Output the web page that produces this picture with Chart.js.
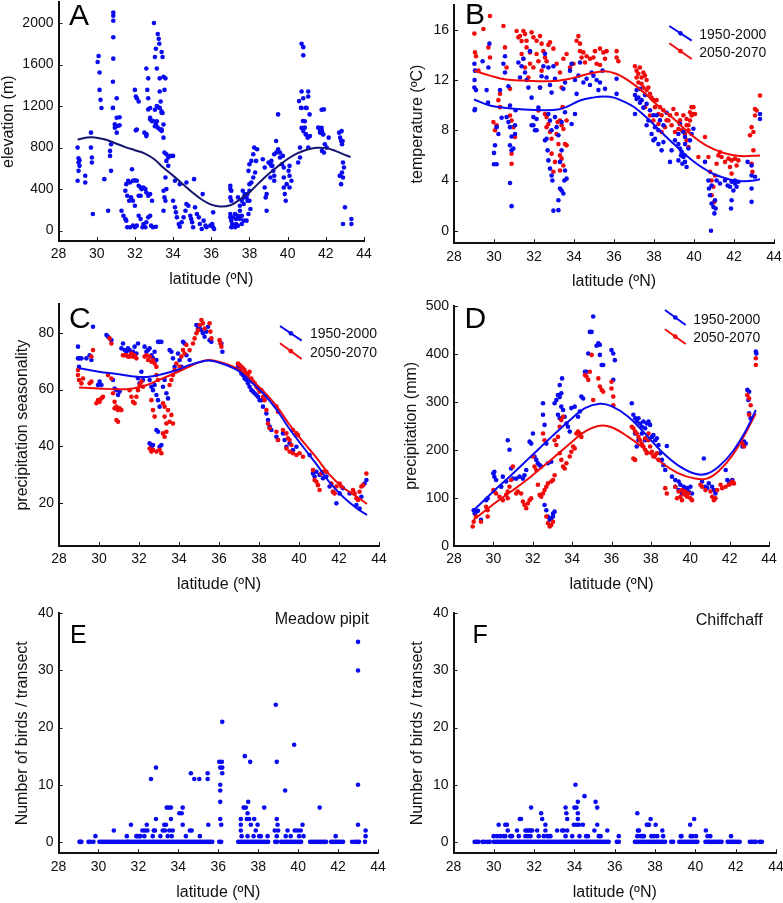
<!DOCTYPE html>
<html><head><meta charset="utf-8">
<script src="https://cdn.jsdelivr.net/npm/chart.js@4.4.1/dist/chart.umd.min.js"></script>
<style>
html,body{margin:0;padding:0;background:#fff;}
#wrap{position:relative;width:783px;height:903px;overflow:hidden;background:#fff;}
#wrap canvas{position:absolute;left:0;top:0;}
</style></head><body>
<div id="wrap">
<canvas id="cA" width="783" height="903"></canvas>
<canvas id="cB" width="783" height="903"></canvas>
<canvas id="cC" width="783" height="903"></canvas>
<canvas id="cD" width="783" height="903"></canvas>
<canvas id="cE" width="783" height="903"></canvas>
<canvas id="cF" width="783" height="903"></canvas>
</div>
<script>
// ---------- tick labels ----------
const latTicks = [28,30,32,34,36,38,40,42,44];
const elevTicks = [0,400,800,1200,1600,2000];
const tempTicks = [0,4,8,12,16];
const seasTicks = [20,40,60,80];
const precTicks = [0,100,200,300,400,500];
const countTicks = [0,10,20,30,40];
const seriesNames = ['1950-2000','2050-2070'];

// ---------- A: elevation ----------
const elevPoints = [[29.0,800],[29.05,698],[29.1,678],[29.05,656],[29.1,624],[29.05,576],[29.0,480],
[29.4,528],[29.4,464],[29.7,944],[29.7,800],[29.75,704],[29.75,656],[29.8,160],
[30.05,1625],[30.1,1683],[30.15,1524],[30.15,1356],[30.2,1260],[30.25,1181],
[30.4,496],[30.6,192],[30.7,768],[30.7,720],[30.75,576],[30.75,832],[30.85,1184],
[30.87,2102],[30.87,2070],[30.87,2022],[30.87,1863],[30.87,1657],[30.85,1435],[30.85,1181],[30.95,1024],[30.95,992],[31.05,1088],[31.05,944],[31.1,1008],[31.05,1276],[31.2,1092],[31.2,1016],
[31.3,192],[31.4,144],[31.5,112],[31.55,96],[31.6,32],[31.75,32],[31.9,48],[32.0,32],[32.1,48],[32.2,144],[32.3,112],[32.4,32],[32.45,64],[32.55,32],[32.6,80],[32.7,128],[32.8,144],[32.85,48],[32.95,32],[33.1,38],
[31.5,384],[31.55,448],[31.65,480],[31.75,464],[31.85,592],[31.9,480],[32.0,486],[32.1,480],[32.2,432],[32.3,416],[32.35,400],[32.45,416],[32.55,400],[32.6,368],[32.7,336],[32.8,352],[32.9,288],[31.6,336],[31.7,288],[31.8,320],[31.9,288],[32.0,240],[32.2,336],[32.3,336],
[32.0,1356],[32.05,1292],[32.1,1276],[32.2,1244],[32.1,975],[32.05,966],[32.6,927],[32.6,911],
[32.6,1562],[32.7,1467],[32.65,1356],[32.7,1276],[32.8,1181],[32.8,1086],[32.9,1054],[33.0,2000],[33.1,1752],[33.05,1673],[33.15,1562],[33.2,1895],[33.25,1848],[33.28,1800],[33.3,1467],[33.3,1340],[33.35,1244],[33.4,1721],[33.45,1673],[33.5,1483],[33.55,1356],[33.6,1467],[33.28,1181],[33.4,1149],[33.45,1133],[33.5,1022],[33.4,975],[33.15,1054],[33.05,1165],[33.05,1006],
[32.7,1168],[32.8,1072],[32.95,1056],[33.1,1024],[33.2,992],[33.3,976],[33.4,960],[33.5,896],[33.15,1200],[33.3,1184],[33.4,1136],[32.6,928],[32.5,944],[33.55,752],[33.65,736],[33.75,704],[33.85,720],[34.0,720],[33.65,672],[33.75,624],[33.6,512],
[33.5,384],[33.55,320],[33.6,288],[33.65,400],[33.5,192],[34.0,288],[34.1,224],[34.15,176],[34.2,128],[34.3,64],[34.35,38],[34.45,80],[34.55,128],[34.65,192],[34.7,256],[34.8,240],[34.9,144],[34.95,112],[35.0,80],[35.05,32],[35.15,224],[35.25,160],[35.35,128],[35.4,64],[35.5,16],[35.6,96],[35.7,48],[35.75,32],[34.1,480],[34.35,448],[34.7,464],[35.1,496],[35.55,352],[36.1,176],[36.05,64],[36.1,32],[36.15,16],[35.95,48],
[37.0,432],[37.0,400],[37.05,384],[37.0,320],[37.05,288],[37.0,160],[37.0,128],[37.05,96],[37.1,64],[37.15,128],[37.25,160],[37.3,112],[37.3,64],[37.4,144],[37.5,192],[37.6,288],[37.65,384],[37.7,256],[37.7,320],[37.75,352],[37.85,320],[37.9,288],[37.9,352],[38.0,384],[38.0,288],[38.05,208],[37.95,160],[37.85,96],[37.7,96],[37.6,64],[37.4,48],[37.25,32],[37.05,32],[37.4,320],[37.5,240],[37.5,112],[37.6,144],
[37.95,576],[38.0,640],[38.1,672],[38.2,736],[38.25,800],[38.4,784],[38.0,448],[38.1,464],[38.2,512],[38.3,560],[38.35,672],
[38.7,688],[38.8,608],[38.8,416],[38.85,320],[38.9,192],[38.9,352],[39.0,656],[39.1,640],
[39.15,672],[39.2,624],[39.25,576],[39.3,528],[39.3,480],[39.3,736],[39.4,864],[39.5,1120],[39.5,784],[39.6,704],[39.7,640],[39.75,720],[39.8,608],[39.8,512],[39.8,416],[39.85,352],[39.9,288],[39.95,448],[40.05,576],[40.1,528],[40.1,624],[40.1,416],[40.2,480],[39.6,752],[39.4,752],[39.15,624],[39.1,512],
[40.55,656],[40.65,704],[40.65,800],
[40.6,1248],[40.7,1184],[40.8,1056],[40.9,992],[40.95,928],[41.05,896],[40.95,1184],[41.15,1120],
[40.73,1800],[40.82,1768],[40.82,1689],[40.73,1340],[40.82,1276],[41.08,1340],[41.08,1292],[41.0,1181],[40.73,1181],[40.9,1054],[40.73,990],[40.82,959],[40.96,927],[41.17,911],[41.08,800],
[41.6,992],[41.7,944],[41.8,960],[41.85,928],[41.95,832],[42.05,800],[42.15,896],[41.8,768],[41.9,1168],[41.9,752],[41.78,1165],[41.78,990],[41.7,959],[41.87,927],
[42.7,944],[42.75,896],[42.8,864],[42.85,832],[42.9,656],[42.95,608],[42.85,560],[42.9,512],[42.8,448],[42.75,528],[42.73,528],[43.0,224],[42.9,64],[43.34,112],[43.34,64],[42.83,959],[42.88,864]];
const elevCurve = [[29.0,878],[29.5,898],[29.8,900],[30.0,895],[30.5,875],[31.0,840],[31.5,805],[32.0,775],[32.5,745],[33.0,690],[33.5,605],[34.0,530],[34.5,450],[35.0,370],[35.5,300],[36.0,250],[36.5,232],[37.0,245],[37.5,300],[38.0,370],[38.5,460],[39.0,545],[39.5,620],[40.0,690],[40.5,745],[41.0,780],[41.5,798],[42.0,795],[42.5,768],[43.0,730],[43.3,710]];

// ---------- B: temperature ----------
const temp1950 = [[29.02,13.3],[29.03,12.0],[29.02,11.4],[29.1,11.2],[29.05,9.7],[29.05,12.75],[29.43,13.5],[29.72,13.0],[29.63,11.2],[29.77,14.9],[30.55,13.9],[30.47,13.3],[30.3,11.2],[30.38,9.0],[30.55,12.6],[30.72,11.5],[30.8,8.25],[30.88,7.5],[31.22,13.4],[31.3,12.2],[31.38,13.1],[31.47,13.7],[31.55,12.6],[31.63,12.0],[31.72,11.4],[31.8,14.3],[31.88,10.6],[31.97,8.4],[32.05,8.0],[32.13,8.9],[32.22,9.8],[32.3,11.4],[32.38,12.3],[32.47,13.1],[32.55,14.1],[32.63,12.2],[32.72,13.0],[32.8,11.6],[32.88,11.0],[32.97,13.1],[33.05,12.1],[33.47,11.3],[33.55,11.8],[33.8,12.75],[33.88,13.3],[34.05,12.0],[34.13,10.9],[34.22,12.35],[34.3,13.4],[34.47,11.8],[34.63,12.1],[34.8,11.6],[34.88,12.6],[34.97,12.35],[35.13,12.0],[35.22,11.2],[35.3,11.8],[35.43,12.75],[35.55,11.3],[36.13,12.1],[36.13,10.9],[37.05,10.8],[37.13,10.5],[37.22,10.6],[37.3,10.2],[37.38,10.4],[37.47,9.8],[37.55,10.8],[37.63,10.1],[37.8,9.6],[37.97,9.2],[37.13,11.2],[37.3,11.3],[38.13,9.2],[38.3,8.8],[38.47,8.4],[38.63,9.4],[39.3,8.5],[39.47,7.86],[39.55,7.46],
[29.03,9.6],[29.7,10.2],[30.0,6.2],[30.0,5.3],[30.13,5.3],[30.05,6.8],[30.13,8.25],[30.22,7.7],[30.63,9.05],[30.72,8.65],[30.8,9.97],[30.8,6.8],[30.88,6.4],[30.8,3.8],[30.88,1.96],[30.97,6.55],[31.05,8.4],[31.05,7.7],[31.08,9.6],[31.88,8.4],[31.97,9.05],[32.13,8.0],[32.55,7.2],[32.63,7.33],[32.68,6.4],[32.72,5.6],[32.8,4.95],[32.88,4.4],[32.92,4.0],[32.97,1.6],[33.22,1.64],[33.22,2.43],[33.3,3.36],[33.38,3.2],[33.47,2.96],[33.52,4.0],[33.55,4.8],[33.63,4.15],[33.3,5.48],[33.38,6.4],[33.22,7.6],[33.13,8.25],[32.88,8.0],[32.8,8.78],[32.72,9.3],[33.05,9.05],[33.38,8.65],[33.55,9.44],[34.05,9.3],[33.88,8.5],
[37.05,9.3],[37.63,8.4],[37.72,8.78],[37.88,7.7],[37.97,7.2],[38.05,7.33],[38.22,6.9],[38.38,6.4],[38.47,7.06],[38.05,8.25],[38.22,8.0],[38.8,5.48],[38.88,6.4],[39.22,6.9],[39.3,6.55],[39.38,6.3],[39.47,5.87],[39.55,5.48],[39.63,5.08],[39.72,6.55],[39.8,7.2],[39.88,7.7],[39.97,8.12],[39.22,5.6],[39.35,6.0],[39.42,5.34],[39.52,6.0],[39.05,7.2],[39.22,7.7],[39.55,6.9],
[40.55,5.48],[40.72,4.0],[40.75,3.36],[40.8,2.83],[40.88,2.17],[40.97,1.9],[41.02,1.38],[41.08,1.77],[41.05,2.43],[40.85,0.0],[40.88,3.6],[41.13,4.0],[41.3,3.76],[41.55,4.0],[41.68,3.6],[41.8,3.5],[41.85,1.77],[41.88,2.43],[41.97,3.2],[42.05,3.76],[42.13,3.5],[42.22,3.9],[41.88,3.9],[42.05,4.0],[42.68,5.48],[42.88,4.4],[42.88,3.36],[42.88,2.3],[43.3,9.3],[43.3,8.9],[43.05,4.3],[42.88,5.2]];
const temp2050 = [[29.02,15.7],[29.05,14.2],[29.1,13.9],[29.22,12.75],[29.47,16.06],[29.72,14.6],[29.8,13.8],[29.8,17.1],[30.47,16.3],[30.55,14.6],[30.63,13.0],[30.8,11.3],[30.22,10.4],[30.3,9.84],[30.3,10.9],[31.13,15.9],[31.22,15.4],[31.3,15.5],[31.38,15.1],[31.47,15.9],[31.55,15.66],[31.63,15.13],[31.63,14.6],[31.8,14.2],[31.88,15.8],[31.97,15.4],[32.13,15.13],[32.3,15.5],[32.38,14.9],[32.47,14.3],[32.55,13.8],[32.63,13.5],[32.72,14.8],[32.8,15.0],[32.97,14.5],[31.38,14.07],[31.47,13.7],[31.55,13.0],[31.72,12.2],[31.8,13.3],[31.97,13.0],[32.13,14.07],[32.22,13.5],[32.3,11.4],[32.38,12.75],[33.13,13.3],[33.3,12.6],[33.38,11.4],[33.47,13.7],[33.63,14.07],[33.8,13.0],[33.97,13.3],[34.13,15.13],[34.22,15.5],[34.3,14.9],[34.3,14.3],[34.38,13.8],[34.47,14.2],[34.55,13.4],[34.63,13.9],[34.8,13.7],[34.97,13.8],[35.05,14.3],[35.13,13.3],[35.3,14.5],[35.47,14.2],[35.63,14.3],[35.3,13.2],[35.55,13.7],[36.13,14.3],[36.13,13.8],[36.22,13.5],
[37.05,13.1],[37.13,12.75],[37.22,12.5],[37.3,13.0],[37.38,12.2],[37.47,12.6],[37.55,12.35],[37.63,12.0],[37.13,12.2],[37.22,11.8],[37.38,11.7],[37.47,11.4],[37.63,11.2],[37.72,11.4],[37.8,10.9],[37.88,10.6],[37.97,10.4],[38.05,9.84],[38.13,10.4],[38.22,9.3],[38.3,9.84],[38.38,9.2],[38.47,9.6],[38.63,8.8],[38.8,9.2],[38.97,9.7],[39.13,9.3],[39.3,8.8],[39.47,9.2],[39.63,8.9],[39.8,9.44],[39.88,9.84],[39.97,9.3],[39.63,8.4],[39.72,8.0],
[29.97,8.65],[30.05,8.0],[30.13,8.4],[30.88,8.78],[30.97,8.25],[31.05,7.46],[30.88,6.14],[30.88,5.34],[30.8,9.18],[32.22,9.58],[32.55,9.3],[32.63,9.05],[32.72,8.5],[32.88,6.14],[32.97,4.7],[33.05,5.48],[33.13,7.7],[33.22,6.9],[33.3,6.0],[33.38,5.74],[33.47,5.2],[33.3,4.8],[33.18,8.65],[33.3,8.78],[33.38,8.4],[33.47,8.1],[33.55,6.9],[33.63,6.8],[32.63,8.25],[32.8,7.86],[32.88,7.33],[33.43,9.84],[33.63,8.78],
[37.55,9.84],[37.8,9.18],[37.97,8.78],[38.22,8.5],[38.38,7.86],[38.55,8.25],[38.72,8.78],[38.88,8.4],[39.05,7.86],[39.22,8.1],[39.3,8.5],[39.38,8.0],[39.55,7.7],[39.72,8.4],[39.8,8.78],[39.88,9.18],[39.97,9.84],[40.05,9.3],[39.63,7.2],[39.72,6.67],[40.22,5.87],[40.55,7.46],[40.72,5.87],[40.8,4.7],[40.88,4.0],[40.97,3.5],[40.88,2.83],[41.02,2.3],[41.05,4.4],[41.13,5.34],[41.22,6.0],[41.3,6.27],[41.38,5.87],[41.55,5.48],[41.72,5.74],[41.8,5.08],[41.88,5.6],[42.05,5.74],[42.13,5.2],[42.22,5.6],[41.88,4.55],[42.8,7.6],[42.88,5.34],[42.92,4.7],[42.97,6.4],[42.97,7.86],[42.88,8.25],[43.05,9.18],[43.13,9.58],[43.3,10.77],[43.05,9.7]];
const temp1950Curve = [[29.0,10.45],[29.8,9.97],[30.5,9.8],[31.5,9.66],[32.5,9.6],[33.2,9.65],[33.6,9.84],[34.3,10.37],[35.0,10.62],[35.5,10.69],[36.0,10.6],[36.5,10.28],[37.0,9.85],[37.5,9.2],[38.0,8.45],[38.5,7.65],[39.0,6.9],[39.5,6.15],[40.0,5.5],[40.5,4.95],[41.0,4.5],[41.5,4.22],[42.0,4.0],[42.5,3.95],[43.0,4.0],[43.3,4.1]];
const temp2050Curve = [[29.0,12.75],[29.8,12.35],[30.6,12.04],[31.5,11.96],[32.8,11.9],[33.6,12.04],[34.5,12.4],[35.5,12.7],[36.1,12.5],[36.8,11.88],[37.5,11.0],[38.1,10.1],[39.0,8.9],[39.8,7.72],[40.6,6.8],[41.5,6.19],[42.3,5.95],[43.3,6.0]];

// ---------- C: precipitation seasonality ----------
const seas1950 = [[28.95,75.1],[28.95,71.0],[29.03,71.0],[29.12,71.0],[29.0,68.0],[29.7,82.1],[29.53,72.1],[29.62,70.4],[29.37,71.0],[30.37,79.2],[30.45,78.6],[30.62,77.4],[29.95,61.6],[30.03,62.8],[30.12,61.6],[30.7,63.4],[30.78,60.4],[30.87,59.8],[30.95,58.1],[31.03,59.3],[31.12,74.5],[31.2,76.2],[31.28,73.9],[31.37,73.3],[31.45,74.5],[31.53,73.9],[31.62,72.7],[31.7,73.3],[31.78,75.1],[31.87,72.7],[31.95,76.2],[31.95,64.0],[32.03,62.2],[32.12,66.3],[32.2,63.4],[32.28,75.1],[32.37,73.3],[32.45,73.9],[32.53,74.5],[32.62,72.1],[32.7,71.0],[32.78,73.3],[32.87,70.4],[32.95,76.8],[33.03,76.8],[33.12,76.8],[32.53,63.4],[32.62,61.0],[32.7,59.8],[32.78,61.6],[32.87,58.1],[32.95,56.3],[33.03,54.0],[32.53,41.1],[32.62,39.9],[32.7,40.5],[32.87,45.8],[32.95,45.2],[33.03,39.9],[33.12,40.5],[33.2,61.0],[33.28,63.4],[33.37,58.7],[33.45,56.9],[33.53,73.9],[33.62,73.3],[33.7,71.0],[33.78,68.0],[33.95,72.7],[34.03,70.4],[34.12,68.0],[34.2,76.8],[34.28,76.2],[34.37,72.1],[34.53,70.4],[34.87,82.7],[34.95,81.5],[35.03,82.1],[35.12,80.9],[35.2,79.8],[35.28,78.6],[35.37,80.4],[35.45,82.1],[35.62,76.8],[35.53,77.4],[36.12,76.2],[36.17,73.3],
[36.95,68.0],[37.03,66.9],[37.12,65.7],[37.2,65.1],[37.28,63.9],[37.37,63.4],[37.45,62.2],[37.53,61.0],[37.62,59.8],[37.7,59.3],[37.78,58.7],[37.87,58.1],[37.95,57.5],[38.03,56.3],[38.12,56.3],[38.2,54.0],[38.37,51.6],[38.45,49.3],[38.53,47.0],[38.62,45.8],[38.87,43.4],[38.95,42.3],[39.2,44.6],[39.28,42.3],[39.37,39.9],[39.53,41.1],[39.7,38.7],[39.87,39.9],[40.53,37.0],[40.7,30.5],[40.78,29.4],[40.87,31.1],[41.03,30.0],[41.2,28.8],[41.37,29.4],[41.53,25.9],[41.7,24.1],[41.87,20.0],[42.03,23.5],[42.2,25.3],[42.53,23.5],[42.87,19.4],[43.03,18.2],[43.12,22.3],[43.28,27.0],[43.37,28.2]];
const seas2050 = [[28.95,66.9],[28.95,65.1],[29.0,63.4],[29.12,62.2],[29.2,63.9],[29.53,62.2],[29.62,62.8],[29.7,73.9],[29.62,71.6],[29.87,55.2],[29.95,56.3],[30.03,55.7],[30.12,56.9],[30.2,57.5],[30.45,65.1],[30.53,78.0],[30.62,76.2],[30.62,63.9],[30.7,58.7],[30.78,55.7],[30.78,53.4],[30.87,54.0],[30.95,52.8],[31.03,53.4],[31.12,52.8],[30.87,49.3],[30.95,48.7],[31.2,72.1],[31.28,72.1],[31.37,72.1],[31.45,71.6],[31.53,71.6],[31.62,72.7],[31.7,71.6],[31.78,72.1],[31.87,71.0],[31.53,59.8],[31.62,57.5],[31.7,55.7],[31.78,55.2],[31.87,57.5],[31.95,59.8],[32.03,61.6],[32.12,62.8],[32.2,61.0],[32.28,71.6],[32.37,72.1],[32.45,70.4],[32.53,71.6],[32.62,69.8],[32.7,70.4],[32.78,69.2],[32.87,68.0],[32.62,56.3],[32.7,52.8],[32.78,50.5],[32.53,39.3],[32.62,38.2],[32.7,38.8],[32.87,38.2],[33.03,38.8],[33.12,37.6],[32.87,65.1],[32.95,63.4],[33.2,55.2],[33.28,54.0],[33.28,50.5],[33.37,48.1],[33.45,52.8],[33.53,48.7],[33.62,51.1],[33.2,44.6],[33.28,43.4],[33.37,45.2],[33.7,48.1],[33.53,61.6],[33.62,63.4],[33.7,65.1],[33.78,66.9],[33.87,69.2],[34.03,68.0],[34.12,71.6],[34.2,73.9],[34.28,72.7],[34.37,75.7],[34.53,73.9],[34.7,76.2],[34.78,78.0],[34.87,79.8],[34.95,80.9],[35.03,82.7],[35.12,84.5],[35.2,83.3],[35.28,81.5],[35.53,83.3],[35.57,80.4],[35.62,78.0],[36.03,77.4],[36.07,76.2],[36.12,75.1],
[36.95,69.2],[37.03,68.6],[37.12,68.0],[37.2,67.5],[37.28,66.9],[37.37,65.7],[37.45,65.1],[37.53,66.3],[37.62,63.9],[37.7,62.8],[37.78,62.2],[37.87,61.0],[37.95,60.4],[38.03,59.3],[38.12,59.8],[38.2,57.5],[38.28,56.3],[38.37,52.8],[38.45,48.1],[38.53,46.4],[38.87,54.0],[38.95,52.2],[38.87,45.2],[38.95,42.3],[39.2,45.8],[39.37,44.6],[39.45,42.9],[39.53,42.3],[39.62,40.5],[39.7,45.8],[39.87,44.6],[39.95,44.0],[39.37,39.3],[39.53,38.2],[39.7,37.6],[39.87,37.0],[40.03,37.6],[40.2,36.4],[40.7,31.7],[40.78,28.2],[40.87,27.6],[40.95,26.4],[41.03,24.7],[41.12,30.5],[41.2,31.1],[41.37,31.1],[41.62,27.0],[41.7,24.1],[41.78,23.5],[41.87,25.9],[42.03,27.0],[42.12,25.9],[42.7,24.7],[42.78,23.5],[42.87,21.8],[42.95,21.2],[43.03,24.1],[43.12,25.9],[43.2,26.4],[43.37,30.5]];
const seas1950Curve = [[29.0,67.5],[30.0,66.3],[30.9,65.5],[31.9,64.5],[32.5,64.5],[33.2,65.5],[33.9,66.9],[34.5,68.6],[35.2,70.0],[35.5,70.2],[36.0,69.5],[36.9,66.9],[37.5,63.4],[38.2,58.7],[38.9,52.8],[39.5,46.4],[40.2,39.9],[40.9,33.5],[41.5,27.6],[42.2,22.3],[42.9,18.2],[43.4,15.9]];
const seas2050Curve = [[29.0,60.7],[30.0,60.4],[30.9,60.1],[31.7,60.4],[32.4,61.6],[33.0,63.4],[33.7,65.5],[34.4,67.7],[35.0,69.6],[35.5,70.4],[36.0,69.8],[36.9,67.5],[37.5,64.2],[38.2,59.6],[38.9,54.0],[39.5,47.9],[40.2,41.7],[40.9,35.8],[41.5,30.3],[42.2,25.6],[42.9,22.3],[43.4,19.8]];

// ---------- D: precipitation ----------
const prec1950 = [[29.0,74],[29.05,67],[29.13,71],[29.22,73],[29.37,54],[29.63,95],[29.71,99],[30.0,151],[30.05,154],[30.05,144],[30.14,137],[30.4,123],[30.48,144],[30.65,134],[30.73,220],[30.82,200],[30.9,161],[30.99,140],[31.16,140],[31.33,144],[31.5,140],[31.58,147],[31.67,158],[31.84,217],[31.92,213],[32.01,234],[32.09,186],[32.18,179],[32.26,172],[32.35,168],[32.43,165],[32.52,273],[32.52,297],[32.6,252],[32.69,213],[32.77,172],[32.94,175],[32.6,85],[32.69,74],[32.77,61],[32.86,54],[32.94,57],[33.03,61],[33.11,71],[33.03,67],[33.11,297],[33.2,304],[33.28,314],[33.37,310],[33.45,318],[33.49,349],[33.37,335],[33.28,273],[33.37,266],[33.45,290],[33.54,283],[33.62,269],[33.71,255],[33.79,248],[33.88,238],[33.96,287],[34.13,290],[34.3,269],[34.39,280],[34.47,311],[34.56,307],[34.65,363],[34.73,363],[34.82,401],[34.9,446],[34.99,446],[35.07,478],[35.24,417],[35.33,422],[35.41,419],[35.5,377],[35.58,377],[35.41,398],[36.0,408],[36.09,401],[36.17,387],[36.09,346],
[37.03,297],[37.11,273],[37.2,266],[37.28,259],[37.37,266],[37.45,255],[37.54,248],[37.62,259],[37.71,245],[37.79,255],[37.88,259],[37.96,252],[38.05,227],[38.13,231],[38.22,220],[38.3,224],[38.39,210],[38.47,193],[38.56,179],[38.64,168],[38.73,158],[38.81,208],[37.2,234],[37.28,207],[37.37,220],[37.54,234],[37.71,220],
[39.07,144],[39.24,137],[39.41,134],[39.5,127],[39.67,123],[39.75,116],[39.84,120],[39.92,113],[40.01,123],[40.09,109],[39.41,116],[39.58,109],[39.24,123],
[40.6,134],[40.69,182],[40.77,123],[40.86,120],[40.94,130],[41.11,123],[41.2,116],[41.28,109],[41.8,158],[41.88,137],[41.97,130],[42.05,134],[42.14,137],[42.65,207],[42.73,217],[42.82,213],[42.9,325],[42.99,321],[42.95,304],[42.99,276],[43.07,266],[43.33,405],[43.36,401]];
const prec2050 = [[28.95,40],[29.0,50],[29.12,61],[29.37,50],[29.63,81],[29.71,74],[29.71,61],[30.0,116],[30.05,113],[30.14,109],[30.31,102],[30.48,95],[30.65,106],[30.73,99],[30.82,123],[30.73,113],[30.9,137],[30.99,165],[31.16,109],[31.24,113],[31.41,109],[31.5,92],[31.58,85],[31.67,78],[31.75,88],[31.84,95],[31.92,99],[32.01,186],[32.09,165],[32.18,158],[32.26,127],[32.35,106],[32.43,102],[32.52,109],[32.6,116],[32.69,123],[32.77,130],[32.94,134],[33.03,137],[33.11,147],[32.52,234],[32.6,220],[32.69,61],[32.77,47],[32.86,40],[32.94,43],[33.03,50],[33.11,220],[33.2,210],[33.28,227],[33.37,248],[33.45,262],[33.54,269],[33.37,193],[33.45,179],[33.54,165],[33.62,161],[33.71,172],[33.88,186],[33.96,196],[34.05,207],[34.13,203],[34.22,234],[34.3,238],[34.39,234],[34.47,227],
[34.65,356],[34.73,353],[34.82,346],[34.9,363],[34.99,398],[35.07,304],[35.33,349],[35.41,332],[35.5,325],[35.58,321],[36.0,342],[36.09,311],[36.0,328],[36.09,293],
[37.03,248],[37.11,245],[37.2,238],[37.28,234],[37.37,227],[37.45,220],[37.54,213],[37.62,207],[37.71,200],[37.79,193],[37.88,220],[37.96,207],[38.05,196],[38.13,186],[38.22,189],[38.3,193],[38.39,179],[37.11,182],[37.2,179],[37.71,224],[37.88,234],
[38.73,120],[38.81,109],[39.24,123],[39.41,113],[39.5,102],[39.58,116],[39.67,109],[39.75,106],[39.84,102],[39.92,109],[40.01,99],[40.09,95],[39.33,99],[39.58,95],[39.75,113],
[40.52,127],[40.6,123],[40.77,116],[41.03,113],[41.11,102],[41.2,95],[41.28,99],[41.37,116],[41.54,127],[41.62,120],[41.8,123],[41.97,127],[42.05,130],[42.14,134],[42.22,130],[42.65,213],[42.73,207],[42.9,314],[42.99,307],[43.07,293],[42.99,273],[43.33,391],[43.33,377]];
const prec1950Curve = [[29.0,74],[30.05,115],[30.9,147],[31.9,186],[32.95,227],[34.0,266],[34.65,287],[35.4,296],[36.0,291],[36.85,269],[37.7,234],[38.55,196],[39.4,167],[40.25,150],[40.85,150],[41.45,165],[42.15,196],[42.8,238],[43.33,283]];
const prec2050Curve = [[29.0,54],[30.05,88],[30.9,113],[31.9,144],[32.95,180],[34.0,217],[34.65,238],[35.4,250],[36.0,247],[36.85,227],[37.7,201],[38.55,173],[39.4,151],[40.25,140],[40.85,140],[41.45,156],[42.15,189],[42.8,234],[43.33,276]];

// ---------- E: Meadow pipit ----------
const pipitZeroLat = [29.05,29.1,29.15,29.5,29.6,29.75,30.05,30.15,30.25,30.35,30.45,30.55,30.65,30.75,30.85,30.95,31.05,31.15,31.25,31.35,31.45,31.5,31.6,31.7,31.8,31.9,32.0,32.1,32.2,32.3,32.4,32.5,32.6,32.7,32.8,32.9,33.0,33.1,33.2,33.3,33.4,33.5,33.6,33.7,33.8,33.9,34.0,34.1,34.2,34.3,34.4,34.5,34.6,34.7,34.8,34.9,35.0,35.1,35.2,35.3,35.4,35.5,35.6,35.7,36.05,36.15,37.0,37.1,37.2,37.3,37.4,37.5,37.6,37.7,37.8,37.9,38.0,38.1,38.2,38.3,38.4,38.5,38.85,38.95,39.15,39.25,39.35,39.45,39.55,39.65,39.75,39.85,39.95,40.05,40.15,40.6,40.7,40.8,40.9,41.0,41.1,41.2,41.3,41.4,41.65,41.75,41.85,41.95,42.05,42.15,42.25,42.7,42.85,42.95,43.05,43.35];
const pipitCounts = [[29.85,1],[30.77,2],[31.42,1],[31.63,3],[31.9,1],[31.97,1],[32.05,1],[32.1,1],[32.2,2],[32.3,1],[32.33,2],[32.42,3],[32.45,2],[32.63,11],[32.72,1],[32.77,2],[32.83,2],[32.88,4],[32.88,13],[33.1,1],[33.22,2],[33.3,3],[33.33,2],[33.38,3],[33.42,6],[33.52,6],[33.47,1],[33.55,2],[33.63,4],[33.63,6],[33.67,1],[33.72,2],[34.05,5],[34.17,5],[34.22,6],[34.22,3],[34.38,1],[34.58,2],[34.63,12],[34.67,2],[34.8,11],[35.05,11],[35.08,1],[35.47,11],[35.47,12],[35.5,3],[36.2,21],[36.05,14],[36.18,14],[36.1,13],[36.2,13],[36.2,12],[36.1,10],[36.1,9],[36.1,7],[36.1,4],[36.15,3],[37.13,4],[37.13,3],[37.13,2],[37.17,1],[37.27,6],[37.33,15],[37.38,6],[37.47,5],[37.47,1],[37.5,7],[37.43,4],[37.55,4],[37.6,14],[37.63,3],[37.77,1],[37.8,4],[37.88,2],[37.97,3],[38.05,1],[38.13,1],[38.3,6],[38.47,1],[38.88,24],[38.93,14],[38.93,4],[38.97,3],[38.83,2],[39.0,2],[38.93,1],[39.35,9],[39.38,1],[39.47,2],[39.63,1],[39.8,17],[39.83,2],[39.97,2],[40.05,1],[40.13,2],[40.22,3],[40.27,1],[41.08,6],[41.88,1],[43.0,35],[43.0,30],[43.0,10],[43.0,3],[43.38,2],[43.38,1]];

// ---------- F: Chiffchaff ----------
const chiffZeroLat = [29.05,29.15,29.25,29.45,29.55,29.7,29.8,30.0,30.1,30.2,30.3,30.4,30.5,30.6,30.7,30.8,30.9,31.0,31.1,31.2,31.3,31.4,31.5,31.6,31.7,31.8,31.9,32.0,32.1,32.2,32.3,32.4,32.5,32.6,32.7,32.8,32.9,33.0,33.1,33.2,33.3,33.4,33.5,33.6,33.7,33.8,33.9,34.0,34.1,34.2,34.3,34.4,34.5,34.6,34.7,34.8,34.9,35.0,35.1,35.2,35.3,35.4,35.5,35.6,35.7,36.1,36.2,37.0,37.1,37.2,37.3,37.4,37.5,37.6,37.7,37.8,37.9,38.0,38.1,38.2,38.3,38.4,38.5,38.8,38.9,39.2,39.3,39.4,39.5,39.6,39.7,39.8,39.9,40.0,40.1,40.5,40.6,40.7,40.8,40.9,41.0,41.1,41.2,41.3,41.6,41.7,41.8,41.9,42.0,42.1,42.2,42.7,42.8,42.9,43.0,43.2,43.3];
const chiffCounts = [[29.99,1],[30.16,1],[30.24,3],[30.32,1],[30.49,1],[30.57,3],[30.65,3],[30.69,2],[30.57,1],[30.82,1],[30.9,1],[31.15,2],[31.24,1],[31.29,4],[31.35,4],[31.57,2],[31.65,2],[31.74,2],[31.82,2],[31.85,6],[31.9,2],[31.57,1],[31.69,1],[31.82,1],[32.15,2],[32.23,1],[32.35,5],[32.4,4],[32.48,1],[32.56,3],[32.56,2],[32.65,1],[32.73,1],[32.81,1],[33.14,2],[33.39,2],[33.47,2],[33.56,6],[33.6,5],[33.64,4],[33.56,1],[33.64,2],[33.89,1],[33.97,3],[34.0,6],[34.05,10],[34.1,6],[34.17,7],[34.17,5],[34.17,4],[34.1,3],[34.22,3],[34.25,1],[34.42,3],[34.5,8],[34.58,1],[34.67,1],[35.05,7],[35.13,6],[35.13,3],[34.99,2],[35.21,1],[35.3,1],[35.63,2],[36.2,1],[37.12,5],[37.15,2],[37.2,2],[37.12,1],[37.29,1],[37.37,1],[37.45,1],[37.59,3],[37.65,3],[37.78,4],[37.7,3],[37.82,1],[37.95,1],[38.03,3],[38.11,1],[38.36,2],[38.4,1],[39.28,1],[39.31,1],[39.74,3],[39.77,1],[39.94,4],[39.86,1],[40.03,1],[40.52,2],[40.6,1],[40.74,1],[41.77,1]];

// ---------- styling & building ----------
const FONT = '"Liberation Sans", Arial, Helvetica, sans-serif';
Chart.defaults.font.family = FONT;
const BLUE = '#0a0af0', RED = '#f00a0a', NAVY = '#16166e', INK = '#111';
const xy = arr => arr.map(p => ({x: p[0], y: p[1]}));
const zeros = arr => arr.map(v => ({x: v, y: 0}));

const pts = (data, color) => ({type:'scatter', data, backgroundColor: color, borderWidth: 0, pointRadius: 2.3, pointHoverRadius: 2.3, showLine: false});
const curve = (data, color) => ({type:'scatter', data, borderColor: color, backgroundColor: color, borderWidth: 2, pointRadius: 0, showLine: true, tension: 0.4, fill: false});

const decoCfg = {};
const deco = {
  id: 'deco',
  afterDraw(chart) {
    const o = decoCfg[chart.canvas.id]; if (!o) return;
    const ctx = chart.ctx, xs = chart.scales.x, ys = chart.scales.y, a = chart.chartArea;
    ctx.save();
    ctx.strokeStyle = INK; ctx.lineWidth = 1;
    ctx.beginPath();
    xs.ticks.forEach(t => { const px = Math.round(xs.getPixelForValue(t.value)) + 0.5; ctx.moveTo(px, a.bottom); ctx.lineTo(px, a.bottom - 4); });
    ys.ticks.forEach(t => { const py = Math.round(ys.getPixelForValue(t.value)) + 0.5; ctx.moveTo(a.left, py); ctx.lineTo(a.left + 4, py); });
    ctx.stroke();
    ctx.fillStyle = '#000'; ctx.textAlign = 'left'; ctx.textBaseline = 'alphabetic';
    ctx.font = o.letter.size + 'px ' + FONT;
    ctx.fillText(o.letter.text, o.letter.x, o.letter.y);
    (o.legend || []).forEach(e => {
      ctx.strokeStyle = e.color; ctx.lineWidth = 2;
      ctx.beginPath(); ctx.moveTo(e.x1, e.y1); ctx.lineTo(e.x2, e.y2); ctx.stroke();
      ctx.fillStyle = e.color; ctx.beginPath(); ctx.arc((e.x1+e.x2)/2, (e.y1+e.y2)/2, 2.3, 0, Math.PI*2); ctx.fill();
      ctx.fillStyle = INK; ctx.font = '14px ' + FONT; ctx.textAlign = 'left';
      ctx.fillText(e.text, e.tx, e.ty);
    });
    if (o.label) {
      ctx.fillStyle = INK; ctx.font = '16px ' + FONT; ctx.textAlign = 'right';
      ctx.fillText(o.label.text, o.label.x, o.label.y);
    }
    ctx.restore();
  }
};

function panel(id, p) {
  decoCfg[id] = p.deco;
  const padLeft = p.yTitleX - 8;
  const xBottom = p.xTitleY + 8;
  const tickFont = {family: FONT, size: 14};
  const titleFont = {family: FONT, size: 16, lineHeight: 1};
  new Chart(document.getElementById(id), {
    type: 'scatter',
    data: {datasets: p.datasets},
    options: {
      responsive: false, animation: false, devicePixelRatio: 1,
      events: [],
      layout: {padding: {left: padLeft, right: 783 - p.R, top: p.T, bottom: 903 - xBottom}},
      plugins: {legend: {display: false}, tooltip: {enabled: false}},
      scales: {
        x: {
          type: 'linear', min: 28, max: 44,
          afterBuildTicks: s => { s.ticks = latTicks.map(v => ({value: v})); },
          afterFit: s => { s.height = xBottom - p.B; s.paddingLeft = 0; s.paddingRight = 0; },
          grid: {display: false, drawTicks: false},
          border: {display: true, color: INK, width: 2},
          ticks: {padding: 5, color: INK, font: tickFont, maxRotation: 0, autoSkip: false, callback: v => String(v)},
          title: {display: true, text: 'latitude (ºN)', color: INK, font: titleFont, padding: 0}
        },
        y: {
          type: 'linear', min: p.ymin, max: p.ymax,
          afterBuildTicks: s => { s.ticks = p.yTicks.map(v => ({value: v})); },
          afterFit: s => { s.width = p.L - padLeft; s.paddingTop = 0; s.paddingBottom = 0; },
          grid: {display: false, drawTicks: false},
          border: {display: true, color: INK, width: 2},
          ticks: {padding: 5, color: INK, font: tickFont, autoSkip: false, callback: v => String(v)},
          title: {display: true, text: p.yTitle, color: INK, font: titleFont, padding: 0}
        }
      }
    },
    plugins: [deco]
  });
}

panel('cA', {L: 58.5, R: 364, T: 0, B: 241, ymin: -100, ymax: 2200, yTicks: elevTicks,
  yTitle: 'elevation (m)', yTitleX: 9, xTitleY: 280,
  datasets: [curve(xy(elevCurve), NAVY), pts(xy(elevPoints), BLUE)],
  deco: {letter: {text: 'A', x: 69, y: 25, size: 30}}});

panel('cB', {L: 454, R: 774, T: 4.7, B: 243.3, ymin: -1, ymax: 18, yTicks: tempTicks,
  yTitle: 'temperature (ºC)', yTitleX: 417.5, xTitleY: 282,
  datasets: [curve(xy(temp1950Curve), BLUE), curve(xy(temp2050Curve), RED), pts(xy(temp1950), BLUE), pts(xy(temp2050), RED)],
  deco: {letter: {text: 'B', x: 465, y: 24, size: 30},
    legend: [{color: BLUE, x1: 669.3, y1: 26, x2: 691.7, y2: 40.7, text: seriesNames[0], tx: 699.3, ty: 39.3},
             {color: RED, x1: 669.3, y1: 43.3, x2: 691.7, y2: 59, text: seriesNames[1], tx: 699.3, ty: 57.3}]}});

panel('cC', {L: 59, R: 379, T: 304.3, B: 546, ymin: 5, ymax: 90, yTicks: seasTicks,
  yTitle: 'precipitation seasonality', yTitleX: 23, xTitleY: 585,
  datasets: [curve(xy(seas1950Curve), BLUE), curve(xy(seas2050Curve), RED), pts(xy(seas2050), RED), pts(xy(seas1950), BLUE)],
  deco: {letter: {text: 'C', x: 69, y: 328, size: 30},
    legend: [{color: BLUE, x1: 280, y1: 326, x2: 301.7, y2: 340.7, text: seriesNames[0], tx: 310, ty: 338.3},
             {color: RED, x1: 280, y1: 343.3, x2: 301.7, y2: 359, text: seriesNames[1], tx: 310, ty: 356.7}]}});

panel('cD', {L: 454, R: 769, T: 306, B: 545.7, ymin: 0, ymax: 500, yTicks: precTicks,
  yTitle: 'precipitation (mm)', yTitleX: 412, xTitleY: 585,
  datasets: [curve(xy(prec1950Curve), BLUE), curve(xy(prec2050Curve), RED), pts(xy(prec2050), RED), pts(xy(prec1950), BLUE)],
  deco: {letter: {text: 'D', x: 464.5, y: 328, size: 30},
    legend: [{color: BLUE, x1: 665, y1: 310, x2: 685.7, y2: 325, text: seriesNames[0], tx: 693.3, ty: 324},
             {color: RED, x1: 665, y1: 329.3, x2: 685.7, y2: 344, text: seriesNames[1], tx: 693.3, ty: 342.3}]}});

panel('cE', {L: 58.5, R: 378, T: 613.3, B: 853.3, ymin: -2, ymax: 40, yTicks: countTicks,
  yTitle: 'Number of birds / transect', yTitleX: 23, xTitleY: 893,
  datasets: [pts(zeros(pipitZeroLat).concat(xy(pipitCounts)), BLUE)],
  deco: {letter: {text: 'E', x: 70, y: 643, size: 25}, label: {text: 'Meadow pipit', x: 369, y: 624}}});

panel('cF', {L: 453.5, R: 776, T: 613.3, B: 853.3, ymin: -2, ymax: 40, yTicks: countTicks,
  yTitle: 'Number of birds / transect', yTitleX: 418, xTitleY: 893,
  datasets: [pts(zeros(chiffZeroLat).concat(xy(chiffCounts)), BLUE)],
  deco: {letter: {text: 'F', x: 472.5, y: 643, size: 25}, label: {text: 'Chiffchaff', x: 762.7, y: 625}}});
</script>
</body></html>
